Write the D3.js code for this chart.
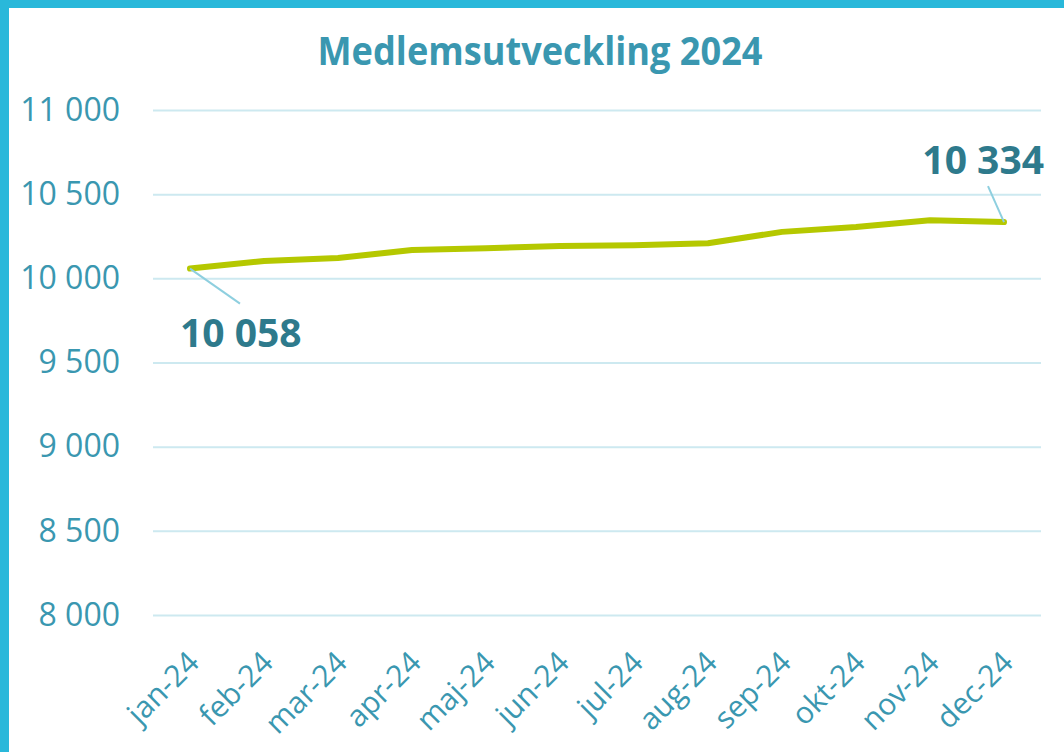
<!DOCTYPE html>
<html>
<head>
<meta charset="utf-8">
<script src="https://cdn.jsdelivr.net/npm/d3@7"></script>
<style>
  html, body { margin: 0; padding: 0; background: #fff; }
  svg { display: block; font-family: 'Open Sans', sans-serif; }
</style>
</head>
<body>
<div id="chart"></div>
<script>
const months = ['jan-24', 'feb-24', 'mar-24', 'apr-24', 'maj-24', 'jun-24', 'jul-24', 'aug-24', 'sep-24', 'okt-24', 'nov-24', 'dec-24']
const members = [10058, 10103, 10121, 10168, 10179, 10192, 10196, 10208, 10276, 10305, 10345, 10334]
const yTicks = [8000, 8500, 9000, 9500, 10000, 10500, 11000]
const titleText = 'Medlemsutveckling 2024'

const width = 1064
const height = 752
const margin = { top: 110, right: 23, bottom: 137, left: 153 }
const innerW = width - margin.left - margin.right
const innerH = height - margin.top - margin.bottom

const tickColor = '#3a97b0'
const labelColor = '#2e7a8c'
const fmt = (v) => d3.format(',')(v).replace(/,/g, ' ')

const svg = d3.select('#chart').append('svg')
  .attr('width', width)
  .attr('height', height)

// cyan frame (left and top)
svg.append('rect').attr('x', 0).attr('y', 0).attr('width', width).attr('height', 8).attr('fill', '#29b8da')
svg.append('rect').attr('x', 0).attr('y', 0).attr('width', 9).attr('height', height).attr('fill', '#29b8da')

svg.append('text')
  .attr('x', 540).attr('y', 65)
  .attr('text-anchor', 'middle')
  .attr('fill', tickColor)
  .attr('font-size', 39)
  .attr('font-weight', 700)
  .attr('textLength', 445)
  .attr('lengthAdjust', 'spacingAndGlyphs')
  .text(titleText)

const g = svg.append('g').attr('transform', `translate(${margin.left},${margin.top})`)

const x = d3.scalePoint().domain(months).range([0, innerW]).padding(0.5)
const y = d3.scaleLinear().domain([8000, 11000]).range([innerH, 0])

// gridlines
g.append('g')
  .call(d3.axisLeft(y).tickValues(yTicks).tickSize(-innerW).tickFormat(''))
  .call((s) => s.select('.domain').remove())
  .call((s) => s.selectAll('line').attr('stroke', '#cde9f0').attr('stroke-width', 2))

// y tick labels
g.append('g')
  .call(d3.axisLeft(y).tickValues(yTicks).tickSize(0).tickPadding(33).tickFormat(fmt))
  .call((s) => s.select('.domain').remove())
  .call((s) => s.selectAll('text')
    .attr('fill', tickColor)
    .attr('font-size', 32)
    .attr('font-family', "'Open Sans', sans-serif"))

// x tick labels
g.append('g')
  .attr('transform', `translate(0,${innerH})`)
  .call(d3.axisBottom(x).tickSize(0).tickFormat((d) => d))
  .call((s) => s.select('.domain').remove())
  .call((s) => s.selectAll('text')
    .attr('fill', tickColor)
    .attr('font-size', 30)
    .attr('font-family', "'Open Sans', sans-serif")
    .attr('text-anchor', 'end')
    .attr('dy', '0.35em')
    .attr('transform', 'translate(3,42) rotate(-45)')
    .attr('y', 0).attr('x', 0))

const line = d3.line().x((d, i) => x(months[i])).y((d) => y(d))

g.append('path')
  .datum(members)
  .attr('fill', 'none')
  .attr('stroke', '#b5c800')
  .attr('stroke-width', 6)
  .attr('stroke-linejoin', 'round')
  .attr('stroke-linecap', 'round')
  .attr('d', line)

// data labels for first and last point
const callouts = [
  { i: 0, dx: 50, dy: 35, tx: -10, ty: 78 },
  { i: members.length - 1, dx: -16, dy: -36, tx: 40, ty: -48 }
]
callouts.forEach((c) => {
  const px = x(months[c.i])
  const py = y(members[c.i])
  g.append('line')
    .attr('x1', px).attr('y1', py)
    .attr('x2', px + c.dx).attr('y2', py + c.dy)
    .attr('stroke', '#8ecfdf').attr('stroke-width', 2)
  g.append('text')
    .attr('x', px + c.tx).attr('y', py + c.ty)
    .attr('text-anchor', c.tx > 0 ? 'end' : 'start')
    .attr('fill', labelColor)
    .attr('font-size', 39)
    .attr('font-weight', 700)
    .text(fmt(members[c.i]))
})
</script>
</body>
</html>
